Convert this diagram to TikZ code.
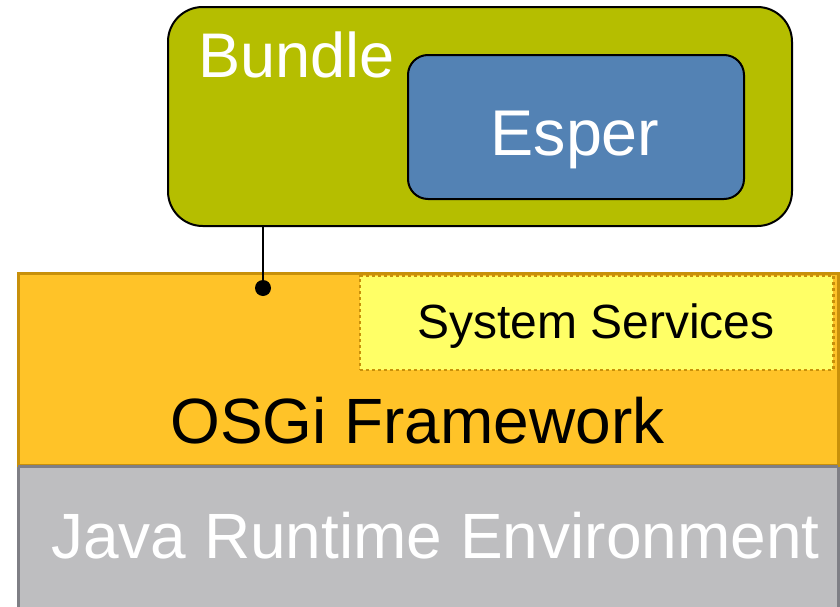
\documentclass[tikz,border=0pt]{standalone}
\usepackage{fontspec}
\setmainfont{Liberation Sans}
\definecolor{bundlefill}{HTML}{B5BE00}
\definecolor{esperfill}{HTML}{5382B4}
\definecolor{osgifill}{HTML}{FFC328}
\definecolor{osgiline}{HTML}{C8900A}
\definecolor{jrefill}{HTML}{BEBEC0}
\definecolor{jreline}{HTML}{7F7F85}
\definecolor{sysfill}{HTML}{FFFF66}
\begin{document}
\begin{tikzpicture}[x=0.75pt,y=-0.75pt,
  box/.style={rectangle,inner sep=0pt,outer sep=0pt},
  bigtext/.style={inner sep=0pt,anchor=base west,font=\fontsize{48}{50}\selectfont},
]
\useasboundingbox (0,0) rectangle (840,607);
\clip (0,0) rectangle (840,607);
% Java Runtime Environment layer
\node[box,draw=jreline,line width=2.25pt,fill=jrefill,minimum width=615pt,minimum height=112.5pt] (jre) at (428,541.5) {};
% OSGi layer
\node[box,draw=osgiline,line width=2.25pt,fill=osgifill,minimum width=615pt,minimum height=144pt] (osgi) at (428,369) {};
\draw[jreline,line width=2.25pt] (jre.north west) -- (jre.north east);
% System services
\node[box,draw=osgiline,line width=2pt,dash pattern=on 2.25pt off 2.25pt,fill=sysfill,minimum width=355pt,minimum height=70.5pt] (sys) at (596.5,323) {};
% Bundle
\node[box,draw=black,line width=1.5pt,fill=bundlefill,rounded corners=26pt,minimum width=468pt,minimum height=164.25pt] (bundle) at (480,116.5) {};
\node[box,draw=black,line width=1.5pt,fill=esperfill,rounded corners=15pt,minimum width=252pt,minimum height=108pt] (esper) at (576,127) {};
% texts
\node[inner sep=0pt,anchor=base west,text=white,font=\fontsize{47.3}{50}\selectfont] (tbundle) at (198,77) {Bundle};
\node[inner sep=0pt,anchor=base,text=white,font=\fontsize{48.5}{50}\selectfont] (tesper) at (575,155) {Esper};
\node[inner sep=0pt,anchor=base,font=\fontsize{36}{40}\selectfont] (tsys) at (596,338) {System Services};
\node[bigtext] (tosgi) at (170,443) {OSGi Framework};
\node[bigtext,text=white] (tjre) at (51,558) {Java Runtime Environment};
% connector
\coordinate (dot) at (263,288);
\draw[line width=1.5pt] (bundle.south -| dot) -- (dot);
\fill (dot) circle[radius=8];
\end{tikzpicture}
\end{document}
